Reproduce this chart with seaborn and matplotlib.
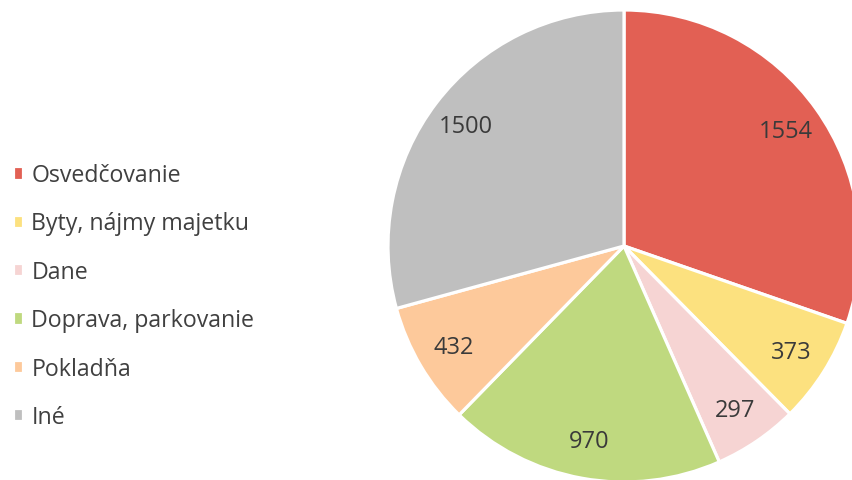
import matplotlib
matplotlib.use("Agg")
import matplotlib.pyplot as plt
import seaborn as sns

categories = ["Osvedčovanie", "Byty, nájmy majetku", "Dane",
              "Doprava, parkovanie", "Pokladňa", "Iné"]
values = [1554, 373, 297, 970, 432, 1500]
colors = ["#E26054", "#FCE17F", "#F6D4D3", "#BFD97F", "#FDC99B", "#BFBFBF"]

sns.set_theme(style="white")
plt.rcParams['font.family'] = ['Open Sans', 'DejaVu Sans']

W, H = 852, 481
fig = plt.figure(figsize=(W / 100, H / 100), dpi=100)
cx, cy, r = 624, 247, 236
ax = fig.add_axes([(cx - r) / W, (H - cy - r) / H, 2 * r / W, 2 * r / H])

palette = sns.color_palette(colors)
wedges, texts, autotexts = ax.pie(
    values, colors=palette, startangle=90, counterclock=False,
    autopct=lambda p: f"{p * sum(values) / 100:.0f}", pctdistance=0.84,
    wedgeprops=dict(edgecolor="white", linewidth=2.3),
    textprops=dict(color="#3A3A3A", fontsize=17))
ax.set_xlim(-1, 1)
ax.set_ylim(-1, 1)
ax.set_aspect("equal")
ax.axis("off")

fig.legend(wedges, categories, loc="center left", bbox_to_anchor=(0.0, 0.3825),
           frameon=False, handlelength=0.45, handleheight=0.5, handletextpad=0.35,
           labelspacing=1.05, fontsize=16.7, labelcolor="#404040",
           borderaxespad=0.0, borderpad=0.55)

fig.savefig("out.png", dpi=100)
